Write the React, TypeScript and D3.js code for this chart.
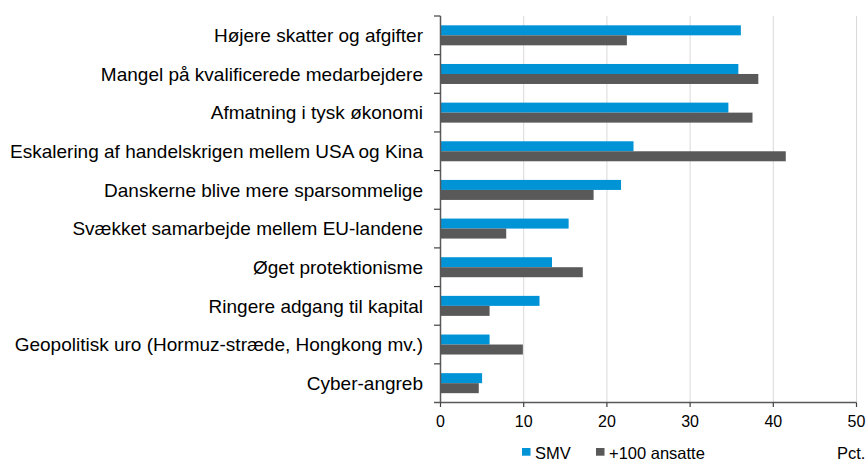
import React from "react";
import * as d3 from "d3";

const categories = [
  "Højere skatter og afgifter",
  "Mangel på kvalificerede medarbejdere",
  "Afmatning i tysk økonomi",
  "Eskalering af handelskrigen mellem USA og Kina",
  "Danskerne blive mere sparsommelige",
  "Svækket samarbejde mellem EU-landene",
  "Øget protektionisme",
  "Ringere adgang til kapital",
  "Geopolitisk uro (Hormuz-stræde, Hongkong mv.)",
  "Cyber-angreb",
];
const smv = [36.1, 35.8, 34.6, 23.2, 21.7, 15.4, 13.4, 11.9, 5.9, 5.0];
const large = [22.4, 38.2, 37.5, 41.5, 18.4, 7.9, 17.1, 5.9, 9.9, 4.6];
const xTicks = [0, 10, 20, 30, 40, 50];
const seriesNames = ["SMV", "+100 ansatte"];
const unitLabel = "Pct.";

const W = 867;
const H = 459;
const colors = ["#0093D6", "#595959"];
const font = "'Liberation Sans', Arial, sans-serif";

export default function App() {
  const x = d3.scaleLinear().domain([0, 50]).range([440.5, 856.5]);
  const y = d3.scaleBand().domain(categories).range([16, 402.5]);
  const barH = 10;
  return (
    <svg width={W} height={H} style={{ position: "absolute", left: 0, top: 0 }}>
      <rect width={W} height={H} fill="#fff" />
      {xTicks.slice(1).map((t) => (
        <line key={t} x1={x(t)} x2={x(t)} y1={16} y2={402.5} stroke="#d9d9d9" strokeWidth={1} />
      ))}
      {categories.map((c, i) => {
        const cy = (y(c) as number) + y.bandwidth() / 2;
        return (
          <g key={c}>
            <rect x={x(0)} y={cy - barH} width={x(smv[i]) - x(0)} height={barH} fill={colors[0]} />
            <rect x={x(0)} y={cy} width={x(large[i]) - x(0)} height={barH} fill={colors[1]} />
            <text x={423} y={cy} dy="0.35em" textAnchor="end" fontFamily={font} fontSize={19} fill="#000">
              {c}
            </text>
          </g>
        );
      })}
      {/* y axis */}
      <line x1={x(0)} x2={x(0)} y1={16} y2={402.5} stroke="#595959" strokeWidth={1.5} />
      {categories.map((c) => (
        <line key={"t" + c} x1={434} x2={x(0)} y1={y(c) as number} y2={y(c) as number} stroke="#404040" strokeWidth={1.2} />
      ))}
      {/* x axis */}
      <line x1={434} x2={x(50)} y1={402.5} y2={402.5} stroke="#595959" strokeWidth={1.5} />
      {xTicks.map((t) => (
        <g key={"x" + t}>
          <line x1={x(t)} x2={x(t)} y1={402.5} y2={407} stroke="#404040" strokeWidth={1.2} />
          <text x={x(t)} y={427} textAnchor="middle" fontFamily={font} fontSize={16} fill="#000">
            {t}
          </text>
        </g>
      ))}
      {/* legend */}
      <rect x={522} y={448} width={8.5} height={7.7} fill={colors[0]} />
      <text x={535} y={459} fontFamily={font} fontSize={16.5} fill="#000">{seriesNames[0]}</text>
      <rect x={596} y={448} width={8.5} height={7.7} fill={colors[1]} />
      <text x={609} y={459} fontFamily={font} fontSize={16.5} fill="#000">{seriesNames[1]}</text>
      <text x={837} y={459} fontFamily={font} fontSize={16.5} fill="#000">{unitLabel}</text>
    </svg>
  );
}
